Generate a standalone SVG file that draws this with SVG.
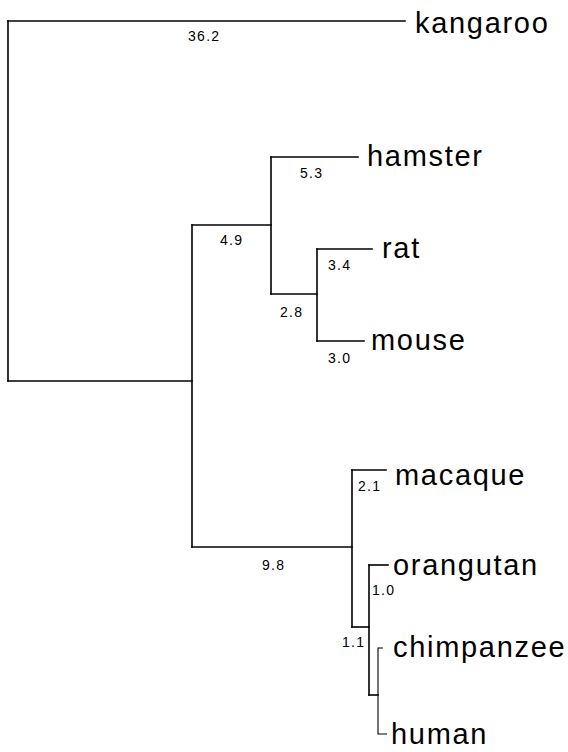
<svg xmlns="http://www.w3.org/2000/svg" width="568" height="752" viewBox="0 0 568 752">
  <style>
    .branch { fill: none; stroke: #000; stroke-width: 1.6; stroke-linecap: square; }
    .branch-thin { fill: none; stroke: #000; stroke-width: 1.1; }
    .taxon { font-family: "Liberation Sans", Arial, sans-serif; font-size: 29px; letter-spacing: 1.7px; fill: #000; }
    .len { font-family: "Liberation Sans", Arial, sans-serif; font-size: 14px; letter-spacing: 1.3px; fill: #000; }
  </style>
  <rect width="568" height="752" fill="#fff"/>

  <!-- tree branches -->
  <g id="connectors">
    <!-- root split -->
    <path class="branch" d="M8 21 V381"/>
    <path class="branch" d="M8 21 H405"/>
    <path class="branch" d="M8 381 H192"/>
    <!-- placental split -->
    <path class="branch" d="M192 225 V547"/>
    <!-- rodents -->
    <path class="branch" d="M192 225 H271"/>
    <path class="branch" d="M271 157 V294"/>
    <path class="branch" d="M271 157 H358"/>
    <path class="branch" d="M271 294 H317"/>
    <path class="branch" d="M317 249 V341"/>
    <path class="branch" d="M317 249 H372"/>
    <path class="branch" d="M317 341 H364"/>
    <!-- primates -->
    <path class="branch" d="M192 547 H352"/>
    <path class="branch" d="M352 470 V627"/>
    <path class="branch" d="M352 470 H386"/>
    <path class="branch" d="M352 627 H369"/>
    <path class="branch" d="M369 565 V695"/>
    <path class="branch" d="M369 565 H388"/>
    <path class="branch" d="M369 695 H378"/>
    <path class="branch-thin" d="M383 648 H378 V734 H387"/>
  </g>

  <!-- branch lengths -->
  <g id="branch-lengths">
    <text class="len" x="188" y="41">36.2</text>
    <text class="len" x="220" y="245">4.9</text>
    <text class="len" x="300" y="178">5.3</text>
    <text class="len" x="280" y="317">2.8</text>
    <text class="len" x="328" y="270">3.4</text>
    <text class="len" x="328" y="363">3.0</text>
    <text class="len" x="262" y="570">9.8</text>
    <text class="len" x="358" y="491">2.1</text>
    <text class="len" x="372" y="595">1.0</text>
    <text class="len" x="342" y="647">1.1</text>
  </g>

  <!-- leaves -->
  <g id="kangaroo"><text class="taxon" x="415" y="33">kangaroo</text></g>
  <g id="hamster"><text class="taxon" x="367" y="166">hamster</text></g>
  <g id="rat"><text class="taxon" x="382" y="258">rat</text></g>
  <g id="mouse"><text class="taxon" x="371" y="350">mouse</text></g>
  <g id="macaque"><text class="taxon" x="395" y="485">macaque</text></g>
  <g id="orangutan"><text class="taxon" x="393" y="575">orangutan</text></g>
  <g id="chimpanzee"><text class="taxon" x="393" y="657">chimpanzee</text></g>
  <g id="human"><text class="taxon" x="391" y="744">human</text></g>
</svg>
